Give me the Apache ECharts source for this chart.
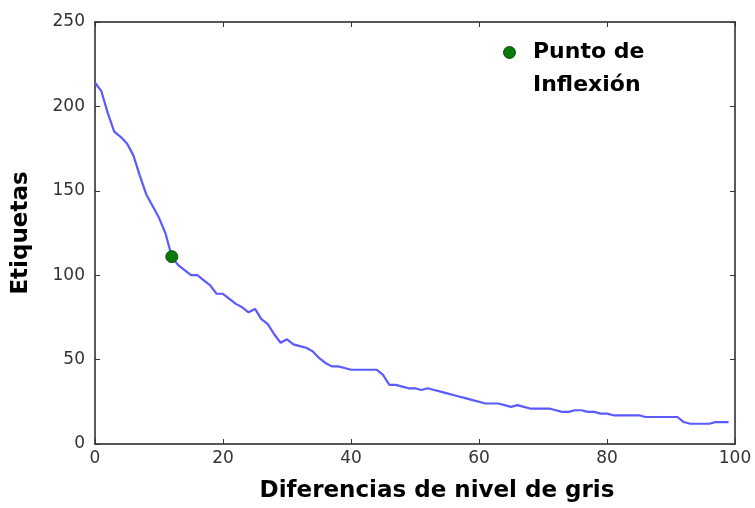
<!DOCTYPE html>
<head>
    <meta charset="utf-8">
    <title>Etiquetas vs diferencias de nivel de gris</title>
    <script src="https://cdn.jsdelivr.net/npm/echarts@6/dist/echarts.min.js"></script>
</head>
<body style="margin:0;background:#fff">
    <div id="main" style="width:755px;height:508px"></div>
    <script type="text/javascript">
    // etiquetas para cada diferencia de nivel de gris (0..99)
    var etiquetas = [214, 209, 196, 185, 182, 178, 171, 159, 148, 141,
                     134, 125, 111, 106, 103, 100, 100, 97, 94, 89,
                     89, 86, 83, 81, 78, 80, 74, 71, 65, 60,
                     62, 59, 58, 57, 55, 51, 48, 46, 46, 45,
                     44, 44, 44, 44, 44, 41, 35, 35, 34, 33,
                     33, 32, 33, 32, 31, 30, 29, 28, 27, 26,
                     25, 24, 24, 24, 23, 22, 23, 22, 21, 21,
                     21, 21, 20, 19, 19, 20, 20, 19, 19, 18,
                     18, 17, 17, 17, 17, 17, 16, 16, 16, 16,
                     16, 16, 13, 12, 12, 12, 12, 13, 13, 13];
    var puntoInflexion = [12, 111];

    var lineData = etiquetas.map(function (v, i) { return [i, v]; });

    var tickLabel = { color: '#333', fontSize: 17, fontFamily: 'DejaVu Sans' };
    var frame = { show: true, onZero: false, lineStyle: { color: '#222', width: 1.5 } };
    var ticks = { inside: true, length: 5, lineStyle: { color: '#333' } };
    var titleFont = { color: '#000', fontSize: 23, fontWeight: 'bold', fontFamily: 'DejaVu Sans' };

    var myChart = echarts.init(document.getElementById('main'));
    myChart.setOption({
        animation: false,
        grid: { left: 95, right: 20, top: 22, bottom: 60 },
        xAxis: [{
            type: 'value', min: 0, max: 100, interval: 20,
            name: 'Diferencias de nivel de gris',
            nameLocation: 'middle', nameGap: 36,
            nameTextStyle: Object.assign({ padding: [0, 0, 0, 44] }, titleFont),
            axisLine: frame, axisTick: ticks,
            axisLabel: Object.assign({ margin: 6 }, tickLabel),
            splitLine: { show: false }
        }, {
            type: 'value', min: 0, max: 100, interval: 20, position: 'top',
            axisLine: frame, axisTick: ticks,
            axisLabel: { show: false },
            splitLine: { show: false }
        }],
        yAxis: [{
            type: 'value', min: 0, max: 250, interval: 50,
            name: 'Etiquetas',
            nameLocation: 'middle', nameGap: 62,
            nameTextStyle: titleFont,
            axisLine: frame, axisTick: ticks,
            axisLabel: Object.assign({ margin: 10 }, tickLabel),
            splitLine: { show: false }
        }, {
            type: 'value', min: 0, max: 250, interval: 50, position: 'right',
            axisLine: frame, axisTick: ticks,
            axisLabel: { show: false },
            splitLine: { show: false }
        }],
        graphic: [{
            type: 'circle', left: 503, top: 46,
            shape: { r: 6 },
            style: { fill: '#0b7a0b', stroke: '#064d06', lineWidth: 1 }
        }, {
            type: 'text', left: 533, top: 36,
            style: {
                text: 'Punto de\nInflexión',
                fill: '#000', font: 'bold 22px "DejaVu Sans"', lineHeight: 33
            }
        }],
        series: [{
            type: 'line',
            data: lineData,
            showSymbol: false,
            lineStyle: { color: '#5a5aff', width: 2.2 },
            z: 2
        }, {
            name: 'Punto de Inflexión',
            type: 'scatter',
            data: [puntoInflexion],
            symbolSize: 12,
            itemStyle: { color: '#0b7a0b', borderColor: '#064d06', borderWidth: 1, opacity: 1 },
            z: 3
        }]
    });
    </script>
</body>
